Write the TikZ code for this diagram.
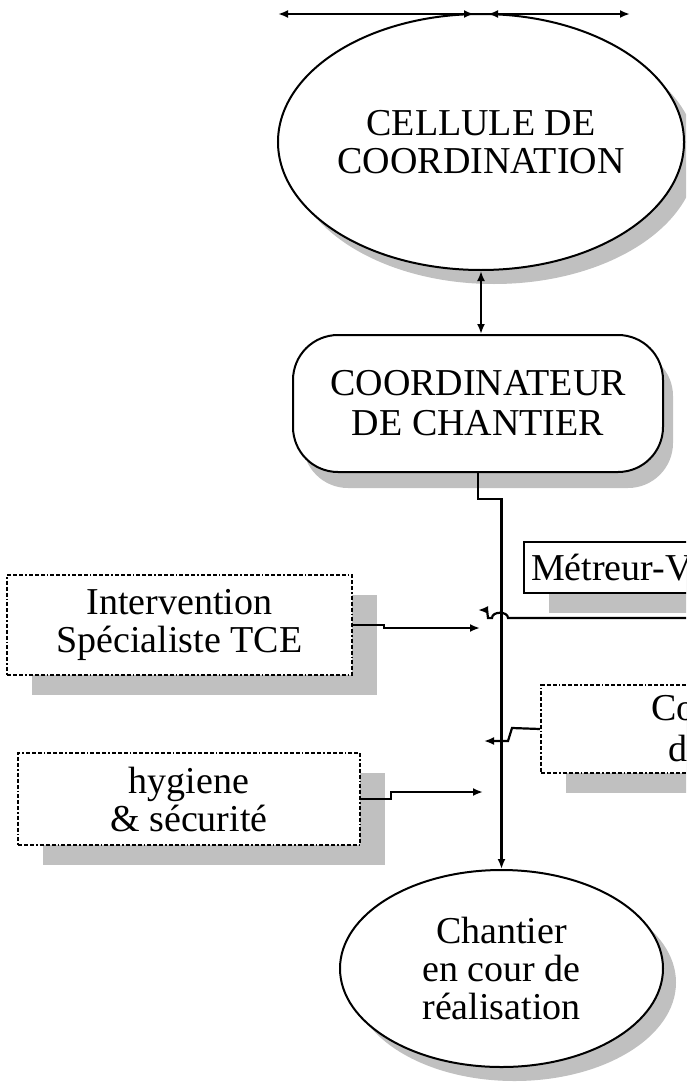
\documentclass[tikz,border=0pt]{standalone}
\usepackage{fontspec}
\setmainfont{Liberation Serif}
\usetikzlibrary{shapes.geometric,shadows,arrows.meta}
\definecolor{shadowgray}{RGB}{192,192,192}

\begin{document}
\begin{tikzpicture}[x=1pt,y=-1pt,
  >={Latex[length=10pt,width=8pt]},
  lbl/.style={font=\fontsize{38}{38}\selectfont, align=center, text=black},
  link/.style={line width=2.2pt},
  ovalnode/.style={ellipse, draw, line width=2pt, fill=white, inner sep=0pt, lbl,
    drop shadow={shadow xshift=13pt, shadow yshift=-14pt, fill=shadowgray, opacity=1}},
  roundnode/.style={rectangle, rounded corners=45pt, draw, line width=2pt, fill=white, inner sep=0pt, lbl,
    drop shadow={shadow xshift=10pt, shadow yshift=-16pt, fill=shadowgray, opacity=1}},
  boxshadow/.style={drop shadow={shadow xshift=25pt, shadow yshift=-20pt, fill=shadowgray, opacity=1}},
  dotbox/.style={rectangle, draw, line width=2pt,
    dash pattern=on 4pt off 2pt on 4pt off 2pt on 4pt off 2pt on 1.5pt off 2pt,
    fill=white, inner sep=0pt, lbl, boxshadow},
  solidbox/.style={rectangle, draw, line width=2pt, fill=white, inner sep=0pt, lbl, boxshadow}
]
\useasboundingbox (0,0) rectangle (686,1084);
\clip (0,0) rectangle (686,1084);
\fill[white] (0,0) rectangle (686,1084);

% main nodes
\node[ovalnode, minimum width=372pt, minimum height=256pt] (cell) at (481,142)
  {CELLULE DE\\COORDINATION};
\node[roundnode, minimum width=370pt, minimum height=137pt] (coord) at (478,403.5)
  {COORDINATEUR\\[2pt]DE CHANTIER};
\node[ovalnode, minimum width=323pt, minimum height=197pt] (chant) at (501.5,968.5)
  {Chantier\\en cour de\\réalisation};

% side boxes
\node[dotbox, minimum width=345pt, minimum height=100pt] (interv) at (179.5,625)
  {Intervention\\Spécialiste TCE};
\node[dotbox, minimum width=342pt, minimum height=92pt] (hyg) at (189,799)
  {hygiene\\\& sécurité};
\node[solidbox, anchor=west, minimum height=51pt, text width=263pt, inner xsep=7pt, align=left]
  (metr) at (523,567.5) {Métreur-V};
\node[dotbox, anchor=west, minimum height=88pt, text width=340pt, align=left]
  (co) at (540,729) {\hspace*{110pt}Co\\[3pt]\hspace*{127pt}d};

% free ends of the connectors
\coordinate (tl) at (278,14);
\coordinate (tm1) at (474,14);
\coordinate (tm2) at (488,14);
\coordinate (tr) at (630,14);
\coordinate (j1) at (480,628);
\coordinate (mr) at (700,618);
\coordinate (m1) at (478,610);
\coordinate (c1) at (484,741);
\coordinate (h1) at (483,792);

% connectors
\draw[link,<->] (tl) -- (tm1);
\draw[link,<->] (tm2) -- (tr);
\draw[link,<->] (cell.south) -- (cell.south |- coord.north);
\draw[link,->] (coord.south) -- ++(0,26) -| (chant.north);
\draw[link,->] (interv.east) -- ++(31,0) |- (j1);
\draw[link,->] (mr) -- (508,618) .. controls (508,611) and (492,611) .. (492,618)
  -- (488,618) -- (487,610) -- (m1);
\draw[link,->] (co.west) -- (512,728) -- (508,741) -- (c1);
\draw[link,->] (hyg.east) -- ++(30,0) |- (h1);
\end{tikzpicture}
\end{document}
